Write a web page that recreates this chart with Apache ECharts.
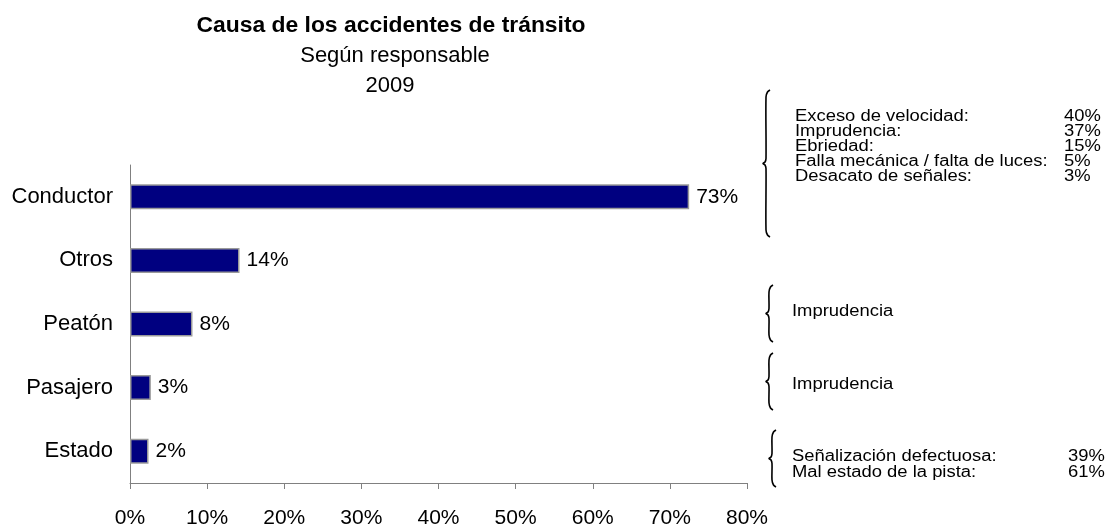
<!DOCTYPE html>
<html>
<head>
<meta charset="utf-8">
<title>Causa de los accidentes de tránsito</title>
<script src="https://cdn.jsdelivr.net/npm/echarts@6/dist/echarts.min.js"></script>
<style>
	html, body { margin: 0; padding: 0; background: #fff; }
	#chart { width: 1117px; height: 528px; }
</style>
</head>
<body>
<div id="chart"></div>
<script>
	// datos del grafico
	var categorias = ['Conductor', 'Otros', 'Peatón', 'Pasajero', 'Estado'];
	var valores = [72.5, 14.2, 8.1, 2.7, 2.4];

	var titulo = 'Causa de los accidentes de tránsito';
	var subtitulo = ['Según responsable', '2009'];

	// detalle de cada responsable (texto a la derecha)
	var causasConductor = ['Exceso de velocidad:', 'Imprudencia:', 'Ebriedad:', 'Falla mecánica / falta de luces:', 'Desacato de señales:'];
	var pctConductor = [40, 37, 15, 5, 3];
	var causasPeaton = ['Imprudencia'];
	var causasPasajero = ['Imprudencia'];
	var causasEstado = ['Señalización defectuosa:', 'Mal estado de la pista:'];
	var pctEstado = [39, 61];

	var fuente = '"Liberation Sans", Arial, sans-serif';

	function texto(x, y, t, size, extra, escala) {
		var st = {
			text: t,
			fontSize: size,
			fontFamily: fuente,
			fill: '#000',
			align: 'left',
			textAlign: 'left',
			verticalAlign: 'middle',
			textVerticalAlign: 'middle'
		};
		for (var k in (extra || {})) st[k] = extra[k];
		return { type: 'text', x: x, y: y, scaleX: escala || 1, silent: true, style: st };
	}

	// llave "{" hecha con polyline
	function llave(x, y1, y2) {
		var ym = (y1 + y2) / 2;
		return {
			type: 'polyline',
			silent: true,
			shape: {
				points: [
					[x + 4, y1], [x + 1.5, y1 + 2], [x, y1 + 7],
					[x, ym - 5], [x - 1, ym - 1.5], [x - 3, ym],
					[x - 1, ym + 1.5], [x, ym + 5],
					[x, y2 - 7], [x + 1.5, y2 - 2], [x + 4, y2]
				],
				smooth: 0.3
			},
			style: { fill: null, stroke: '#000', lineWidth: 1.6 }
		};
	}

	var graficos = [];
	// titulo
	graficos.push(texto(391, 26, titulo, 22, { fontWeight: 'bold', align: 'center', textAlign: 'center' }, 1.04));
	subtitulo.forEach(function (s, i) {
		graficos.push(texto(395 - i * 5, 56 + i * 29.5, s, 22, { align: 'center', textAlign: 'center' }));
	});

	// llaves
	graficos.push(llave(766, 90, 237));
	graficos.push(llave(769, 285, 342));
	graficos.push(llave(769, 353, 410));
	graficos.push(llave(772, 430, 487));

	// textos de la derecha (letra algo estirada como en el original)
	var ancho = 1.15;
	causasConductor.forEach(function (c, i) {
		graficos.push(texto(795, 117 + i * 15, c, 16, null, ancho));
		graficos.push(texto(1064, 117 + i * 15, pctConductor[i] + '%', 16, null, ancho));
	});
	graficos.push(texto(792, 312, causasPeaton[0], 16, null, ancho));
	graficos.push(texto(792, 385, causasPasajero[0], 16, null, ancho));
	causasEstado.forEach(function (c, i) {
		graficos.push(texto(792, 457 + i * 16, c, 16, null, ancho));
		graficos.push(texto(1068, 457 + i * 16, pctEstado[i] + '%', 16, null, ancho));
	});

	var mychart = echarts.init(document.getElementById('chart'));
	var options = {
		animation: false,
		textStyle: { fontFamily: fuente },
		grid: {
			left: 130,
			right: 370,
			top: 165,
			bottom: 45,
			outerBoundsMode: 'none'
		},
		xAxis: {
			type: 'value',
			min: 0,
			max: 80,
			interval: 10,
			axisLine: { show: true, lineStyle: { color: '#808080', width: 1 } },
			axisTick: { show: true, length: 6, lineStyle: { color: '#808080' } },
			axisLabel: {
				formatter: '{value}%',
				fontSize: 21,
				color: '#000',
				margin: 25
			},
			splitLine: { show: false }
		},
		yAxis: {
			type: 'category',
			data: categorias,
			inverse: true,
			axisLine: { lineStyle: { color: '#808080', width: 1 } },
			axisTick: { length: 5, lineStyle: { color: '#808080' } },
			axisLabel: { fontSize: 22, color: '#000', margin: 17 }
		},
		series: [{
			name: 'Responsable',
			type: 'bar',
			data: valores,
			barWidth: 25,
			itemStyle: {
				color: '#000080',
				borderColor: '#9a9a9a',
				borderWidth: 1.5
			},
			label: {
				show: true,
				position: 'right',
				distance: 7,
				fontSize: 21,
				color: '#000',
				formatter: function (p) {
					return Math.round(p.value) + '%';
				}
			}
		}],
		graphic: graficos
	};
	mychart.setOption(options);
</script>
</body>
</html>
